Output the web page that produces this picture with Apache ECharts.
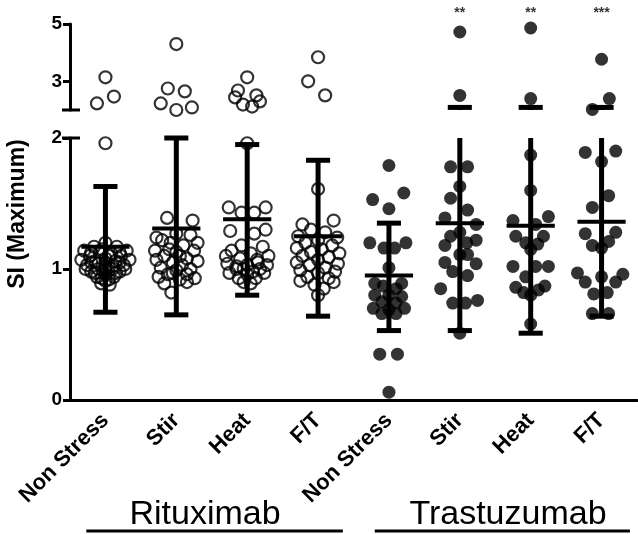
<!DOCTYPE html>
<html>
<head>
<meta charset="utf-8">
<script src="https://cdn.jsdelivr.net/npm/echarts@6.0.0/dist/echarts.min.js"></script>
<style>
html, body { margin: 0; padding: 0; background: #fff; }
#main { width: 638px; height: 534px; }
</style>
</head>
<body>
<div id="main"></div>
<script>
// groups along the x axis
var categories = ['Non Stress', 'Stir', 'Heat', 'F/T', 'Non Stress', 'Stir', 'Heat', 'F/T'];
var drugs = ['Rituximab', 'Trastuzumab'];

// mean and SD ends for every group
var means  = [1.17, 1.31, 1.38, 1.25, 0.95, 1.35, 1.33, 1.36];
var sdLow  = [0.67, 0.65, 0.80, 0.64, 0.53, 0.53, 0.51, 0.64];
var sdHigh = [1.63, 2.00, 1.95, 1.83, 1.35, 2.09, 2.09, 2.09];
var stars  = ['', '', '', '', '', '**', '**', '***'];

// points as [x offset in group, SI], open circles (Rituximab), below the break
var rituxLower = [
  [[0,1.96],[0,1.2],[-0.16,1.17],[0.16,1.17],[-0.3,1.14],[0.3,1.14],[-0.08,1.13],[0.08,1.12],
   [-0.22,1.1],[0.22,1.1],[0,1.08],[-0.34,1.07],[0.34,1.07],[-0.14,1.06],[0.14,1.06],
   [-0.26,1.03],[0.26,1.03],[0,1.02],[-0.1,1.0],[0.1,1.0],[-0.2,0.98],[0.2,0.98],
   [0,0.96],[-0.12,0.94],[0.12,0.94],[0,0.91],[-0.06,0.89],[0.06,0.88],
   [-0.05,1.15],[0.05,1.1],[-0.2,1.05],[0.2,1.05],[-0.1,1.04],[0.1,1.02],[0,0.99],
   [-0.15,0.97],[0.15,0.97],[-0.05,0.93],[0.05,0.92],[-0.28,1.0],[0.28,1.0],[0,1.05],
   [-0.2,1.13],[0.2,1.13]],
  [[-0.13,1.39],[0.23,1.37],[-0.28,1.24],[0,1.27],[0.2,1.26],[-0.2,1.22],[0.3,1.2],[-0.08,1.2],
   [0.1,1.18],[-0.3,1.14],[0.25,1.14],[0,1.13],[-0.17,1.1],[0.15,1.08],[-0.28,1.07],[0.3,1.06],
   [-0.05,1.05],[0.08,1.03],[-0.22,1.01],[0.2,1.0],[0,0.99],[-0.12,0.96],[0.15,0.96],[-0.25,0.94],
   [0.26,0.93],[0.05,0.92],[-0.17,0.89],[0.15,0.9],[-0.07,0.82],[0.05,1.1],[-0.1,1.15],[-0.05,0.97]],
  [[0,1.96],[-0.26,1.47],[0.26,1.47],[-0.08,1.43],[0.1,1.43],[-0.24,1.29],[0.1,1.27],[0.26,1.3],
   [-0.08,1.18],[0.22,1.17],[-0.22,1.14],[0.05,1.12],[-0.3,1.1],[0.3,1.1],[-0.1,1.08],[0.14,1.07],
   [-0.28,1.04],[0.28,1.03],[0,1.03],[-0.15,1.0],[0.18,1.0],[-0.25,0.97],[0.24,0.97],[0,0.96],
   [-0.12,0.93],[0.12,0.93],[-0.05,0.9],[0.05,0.89],[-0.15,1.02],[0.15,1.05],[-0.05,1.0],[0.08,0.98]],
  [[0,1.61],[-0.22,1.34],[0.22,1.37],[-0.1,1.3],[0.1,1.28],[-0.28,1.25],[0.27,1.24],[0,1.22],
   [-0.18,1.2],[0.2,1.18],[-0.3,1.16],[0.05,1.15],[-0.1,1.13],[0.3,1.12],[-0.22,1.1],[0.15,1.09],
   [0,1.07],[-0.3,1.05],[0.28,1.04],[-0.12,1.03],[0.1,1.01],[-0.25,0.99],[0.24,0.98],[0,0.97],
   [-0.15,0.94],[0.15,0.93],[-0.25,0.91],[0.22,0.9],[-0.05,0.88],[0.08,0.85],[0,0.8]]
];
// open circles above the break
var rituxUpper = [
  [[0,3.14],[0.12,2.47],[-0.12,2.23]],
  [[0,4.3],[-0.12,2.75],[0.12,2.65],[-0.22,2.23],[0.22,2.09],[0,2.0]],
  [[0,3.14],[-0.13,2.68],[-0.17,2.44],[0.13,2.51],[0.18,2.3],[-0.06,2.19],[0.07,2.12]],
  [[0,3.84],[-0.14,3.0],[0.1,2.51]]
];
// filled dots (Trastuzumab), below the break
var trastLower = [
  [[0,1.79],[-0.23,1.53],[0.21,1.58],[0,1.46],[-0.27,1.2],[-0.07,1.16],[0.08,1.16],[0.24,1.2],
   [0,1.01],[-0.2,0.89],[0.18,0.89],[-0.08,0.87],[0.1,0.85],[-0.2,0.8],[0,0.8],[0.18,0.79],
   [-0.1,0.75],[0.1,0.74],[-0.22,0.7],[0.22,0.7],[0,0.69],[-0.1,0.66],[0.1,0.66],
   [-0.13,0.35],[0.12,0.35],[0,0.06]],
  [[-0.13,1.78],[0.11,1.78],[0,1.63],[-0.13,1.54],[0.11,1.45],[-0.21,1.39],[0.23,1.34],[0,1.28],
   [-0.13,1.25],[0.23,1.22],[0.1,1.2],[-0.21,1.18],[0,1.11],[0.11,1.11],[-0.21,1.05],[0.23,1.04],
   [-0.1,0.98],[0.11,0.95],[-0.27,0.85],[0.25,0.76],[-0.1,0.74],[0.08,0.74],[0,0.51]],
  [[0,1.87],[0,1.6],[-0.25,1.37],[0.25,1.4],[0.07,1.34],[-0.21,1.25],[0.18,1.25],[-0.07,1.2],
   [0.1,1.19],[0,1.15],[-0.25,1.02],[0.25,1.02],[0.07,1.02],[-0.07,0.94],[-0.21,0.86],[0.2,0.87],
   [0,0.8],[0.11,0.84],[-0.1,0.82],[0,0.58]],
  [[-0.23,1.89],[0.2,1.9],[0,1.82],[0.1,1.56],[-0.13,1.47],[-0.23,1.27],[0.2,1.28],[-0.13,1.18],
   [0.1,1.21],[0,1.16],[-0.34,0.97],[-0.23,0.9],[0.3,0.96],[0.2,0.9],[0,0.94],[-0.11,0.81],
   [0.08,0.82],[-0.13,0.66],[0.1,0.66]]
];
// filled dots above the break
var trastUpper = [
  [],
  [[0,4.72],[0,2.51]],
  [[0,4.86],[0,2.40]],
  [[0,3.77],[0.11,2.40],[-0.13,2.02]]
];

var LEFT = 70, WIDTH = 567;
var FONT = '"Liberation Sans", Arial, sans-serif';

function toPoints(groups, start) {
  var out = [];
  for (var g = 0; g < groups.length; g++) {
    for (var k = 0; k < groups[g].length; k++) {
      out.push([start + g + groups[g][k][0], groups[g][k][1]]);
    }
  }
  return out;
}

var barData = [];
for (var i = 0; i < categories.length; i++) {
  barData.push([i, means[i], sdLow[i], sdHigh[i]]);
}
var starData = [];
for (var s = 0; s < stars.length; s++) {
  if (stars[s]) starData.push([s, 5.39, stars[s]]);
}

function hline(cx, y, half, w) {
  return { type: 'line', shape: { x1: cx - half, y1: y, x2: cx + half, y2: y },
           style: { stroke: '#000', lineWidth: w } };
}

// error bars, part 'low' for the lower panel, 'up' for the upper one
function barRenderer(part) {
  return function (params, api) {
    var x = api.value(0), m = api.value(1), lo = api.value(2), hi = api.value(3);
    var unit = api.size([1, 0])[0];
    var capW = unit * 0.17, meanW = unit * 0.34;
    var children = [];
    if (part === 'low') {
      var pTop = api.coord([x, Math.min(hi, 2)]);
      var pLo = api.coord([x, lo]);
      var pM = api.coord([x, m]);
      children.push({ type: 'line', shape: { x1: pTop[0], y1: pTop[1], x2: pLo[0], y2: pLo[1] },
                      style: { stroke: '#000', lineWidth: 5 } });
      children.push(hline(pLo[0], pLo[1], capW, 5));
      if (hi <= 2) children.push(hline(pTop[0], pTop[1], capW, 5));
      children.push(hline(pM[0], pM[1], meanW, 4));
    } else if (hi > 2) {
      var p2 = api.coord([x, 2]);
      var pHi = api.coord([x, hi]);
      children.push({ type: 'line', shape: { x1: p2[0], y1: p2[1], x2: pHi[0], y2: pHi[1] },
                      style: { stroke: '#000', lineWidth: 5 } });
      children.push(hline(pHi[0], pHi[1], capW, 5));
    }
    return { type: 'group', children: children };
  };
}

var chart = echarts.init(document.getElementById('main'), null, { renderer: 'canvas' });

var openStyle = { color: 'rgba(255,255,255,0)', borderColor: '#000', borderWidth: 2.2 };
var fillStyle = { color: '#000' };

chart.setOption({
  animation: false,
  backgroundColor: '#fff',
  grid: [
    { left: LEFT, top: 138, width: WIDTH, height: 262 },
    { left: LEFT, top: 24, width: WIDTH, height: 86 }
  ],
  xAxis: [
    {
      gridIndex: 0, type: 'category', data: categories, boundaryGap: true,
      axisLine: { lineStyle: { color: '#000', width: 3 } },
      axisTick: { alignWithLabel: true, length: 7, lineStyle: { color: '#000', width: 3 } },
      axisLabel: { rotate: 45, margin: 17, color: '#000', fontWeight: 'bold', fontSize: 22,
                   fontFamily: FONT, interval: 0 },
      splitLine: { show: false }
    },
    { gridIndex: 0, type: 'value', min: -0.5, max: 7.5, show: false },
    { gridIndex: 1, type: 'value', min: -0.5, max: 7.5, show: false }
  ],
  yAxis: [
    {
      gridIndex: 0, type: 'value', min: 0, max: 2, interval: 1,
      axisLine: { show: true, onZero: false, lineStyle: { color: '#000', width: 3 } },
      axisTick: { show: true, length: 7, lineStyle: { color: '#000', width: 3 } },
      axisLabel: { color: '#000', fontWeight: 'bold', fontSize: 19, fontFamily: FONT, margin: 8 },
      splitLine: { show: false }
    },
    {
      gridIndex: 1, type: 'value', min: 2, max: 5, interval: 1,
      axisLine: { show: true, onZero: false, lineStyle: { color: '#000', width: 3 } },
      axisTick: { show: true, length: 7, customValues: [3, 5], lineStyle: { color: '#000', width: 3 } },
      axisLabel: { color: '#000', fontWeight: 'bold', fontSize: 19, fontFamily: FONT, margin: 8,
                   customValues: [3, 5] },
      splitLine: { show: false }
    }
  ],
  series: [
    { type: 'scatter', xAxisIndex: 1, yAxisIndex: 0, clip: false, symbolSize: 12,
      itemStyle: openStyle, data: toPoints(rituxLower, 0) },
    { type: 'scatter', xAxisIndex: 2, yAxisIndex: 1, clip: false, symbolSize: 12,
      itemStyle: openStyle, data: toPoints(rituxUpper, 0) },
    { type: 'scatter', xAxisIndex: 1, yAxisIndex: 0, clip: false, symbolSize: 13,
      itemStyle: fillStyle, data: toPoints(trastLower, 4) },
    { type: 'scatter', xAxisIndex: 2, yAxisIndex: 1, clip: false, symbolSize: 13,
      itemStyle: fillStyle, data: toPoints(trastUpper, 4) },
    { type: 'custom', xAxisIndex: 1, yAxisIndex: 0, clip: false, z: 5,
      renderItem: barRenderer('low'), data: barData },
    { type: 'custom', xAxisIndex: 2, yAxisIndex: 1, clip: false, z: 5,
      renderItem: barRenderer('up'), data: barData },
    { type: 'scatter', xAxisIndex: 2, yAxisIndex: 1, clip: false, symbolSize: 1,
      itemStyle: { color: 'rgba(0,0,0,0)' }, data: starData,
      label: { show: true, position: 'inside', color: '#000', fontWeight: 'bold', fontSize: 14,
               fontFamily: FONT, formatter: function (p) { return p.data[2]; } } }
  ]
});

// axis break bars and the text round the plot
var yLow2 = chart.convertToPixel({ yAxisIndex: 0 }, 2);
var yUp2 = chart.convertToPixel({ yAxisIndex: 1 }, 2);
var xR = chart.convertToPixel({ xAxisIndex: 1 }, -0.27);
var xR2 = chart.convertToPixel({ xAxisIndex: 1 }, 3.35);
var xT = chart.convertToPixel({ xAxisIndex: 1 }, 3.8);
var xT2 = chart.convertToPixel({ xAxisIndex: 1 }, 7.4);

chart.setOption({
  graphic: [
    { type: 'line', shape: { x1: LEFT - 8, y1: yLow2, x2: LEFT + 10, y2: yLow2 },
      style: { stroke: '#000', lineWidth: 3 } },
    { type: 'line', shape: { x1: LEFT - 8, y1: yUp2, x2: LEFT + 10, y2: yUp2 },
      style: { stroke: '#000', lineWidth: 3 } },
    { type: 'text', x: 18, y: 214, rotation: Math.PI / 2,
      style: { text: 'SI (Maximum)', fill: '#000', font: 'bold 23px ' + FONT,
               textAlign: 'center', textVerticalAlign: 'middle' } },
    { type: 'text', x: 205, y: 515,
      style: { text: drugs[0], fill: '#000', font: '34px ' + FONT,
               textAlign: 'center', textVerticalAlign: 'middle' } },
    { type: 'text', x: 508, y: 515,
      style: { text: drugs[1], fill: '#000', font: '34px ' + FONT,
               textAlign: 'center', textVerticalAlign: 'middle' } },
    { type: 'line', shape: { x1: xR, y1: 531, x2: xR2, y2: 531 },
      style: { stroke: '#000', lineWidth: 3 } },
    { type: 'line', shape: { x1: xT, y1: 531, x2: xT2, y2: 531 },
      style: { stroke: '#000', lineWidth: 3 } }
  ]
});
</script>
</body>
</html>
